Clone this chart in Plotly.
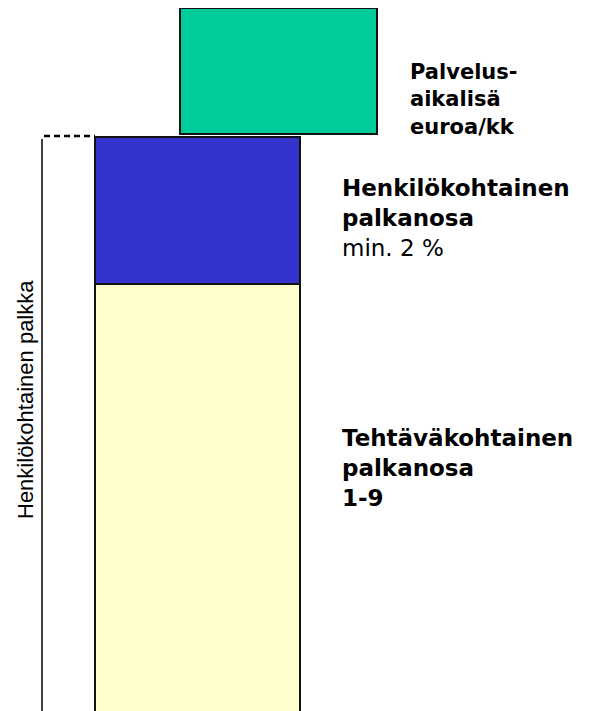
import plotly.graph_objects as go

# ---- data (in chart units; y axis counts upward) ----
column_names = ["Palkka", "Palvelusaikalisä"]
column_centers = [197.5, 278.5]
column_widths = [205, 197]

segment_names = ["Tehtäväkohtainen palkanosa", "Henkilökohtainen palkanosa", "Palvelusaikalisä euroa/kk"]
segment_bases = [0, 431, 581]
segment_heights = [431, 147, 126]
segment_columns = [0, 0, 1]
segment_colors = ["#FFFFCC", "#3333CC", "#00CC99"]

bracket_x = [42, 42]
bracket_y = [-10, 576]
dash_x = [44, 95]
dash_y = [579, 579]

label_texts = [
    "<b>Palvelus-</b><br><b>aikalisä</b><br><b>euroa/kk</b>",
    "<b>Henkilökohtainen</b><br><b>palkanosa</b><br>min. 2 %",
    "<b>Tehtäväkohtainen</b><br><b>palkanosa</b><br><b>1-9</b>",
]
label_x = [408, 340, 340]
label_y = [615.5, 497, 247]
label_sizes = [21, 23, 23]
side_label = "Henkilökohtainen palkka"

fig = go.Figure()
for i in range(len(segment_names)):
    c = segment_columns[i]
    fig.add_trace(go.Bar(
        x=[column_centers[c]], y=[segment_heights[i]], base=[segment_bases[i]],
        width=[column_widths[c]], name=segment_names[i],
        marker=dict(color=segment_colors[i], line=dict(color="#111111", width=2)),
        hoverinfo="name",
    ))

fig.add_trace(go.Scatter(x=bracket_x, y=bracket_y, mode="lines",
                         line=dict(color="black", width=1.5), hoverinfo="skip"))
fig.add_trace(go.Scatter(x=dash_x, y=dash_y, mode="lines",
                         line=dict(color="black", width=2.5, dash="6px,4px"), hoverinfo="skip"))

for t, x, y, s in zip(label_texts, label_x, label_y, label_sizes):
    fig.add_annotation(x=x, y=y, text=t, showarrow=False, xanchor="left", yanchor="middle",
                       align="left", font=dict(family="DejaVu Sans", size=s, color="black"))

fig.add_annotation(x=25, y=315, text=side_label, textangle=-90, showarrow=False,
                   xanchor="center", yanchor="middle",
                   font=dict(family="Liberation Sans, Arial", size=22, color="black"))

fig.update_layout(
    width=590, height=703, margin=dict(l=0, r=0, t=0, b=0),
    paper_bgcolor="white", plot_bgcolor="white", showlegend=False,
    barmode="overlay",
    xaxis=dict(range=[8, 598], visible=False, fixedrange=True),
    yaxis=dict(range=[4, 707], visible=False, fixedrange=True),
)

fig.write_html("out.html")
